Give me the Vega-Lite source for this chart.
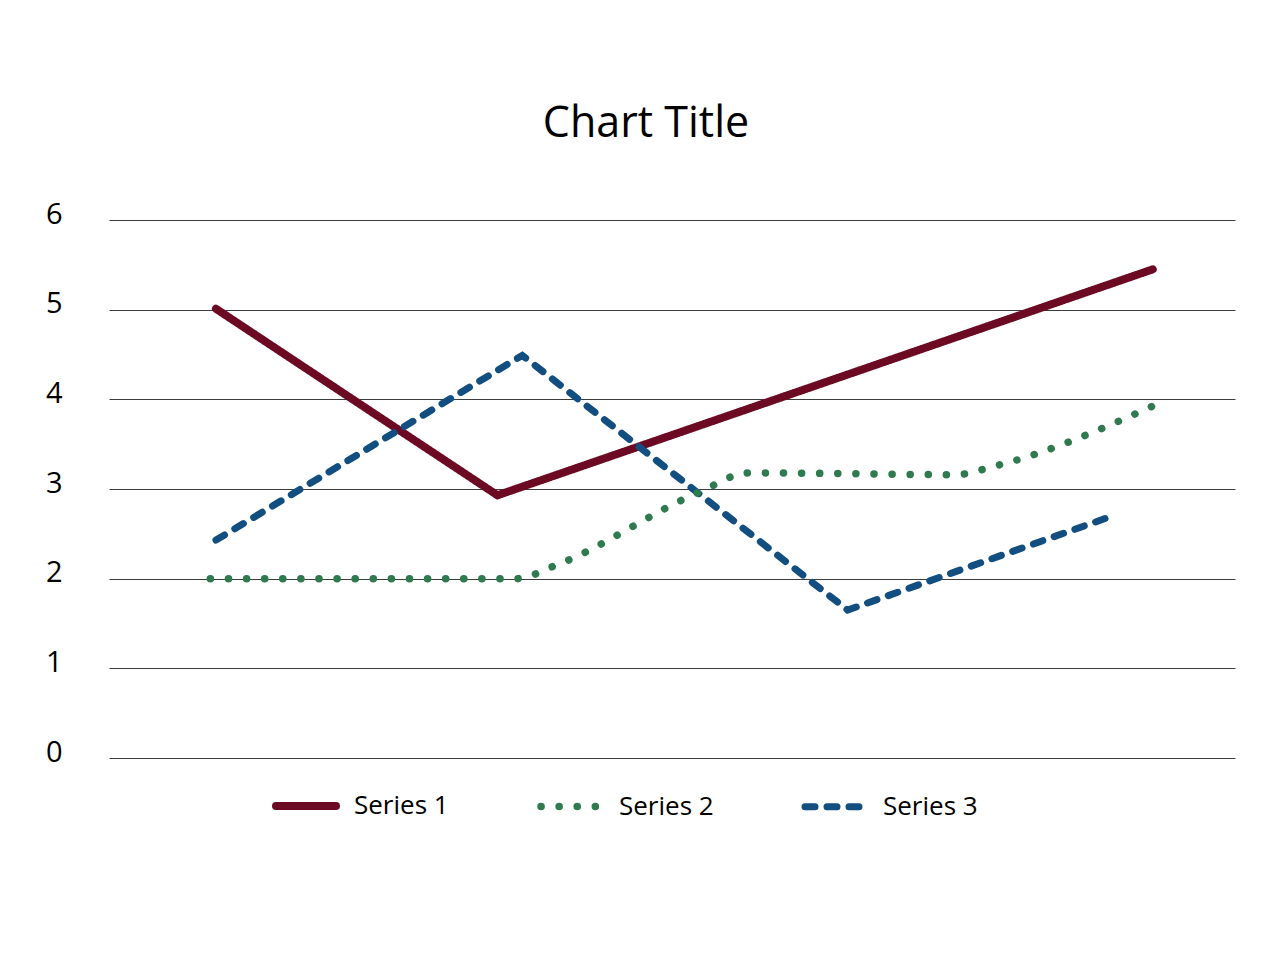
{
  "$schema": "https://vega.github.io/schema/vega-lite/v6.json",
  "description": "Three line series with different stroke styles, 0-6 scale.",
  "autosize": {"type": "none"},
  "padding": {"left": 109, "top": 220, "right": 46, "bottom": 203},
  "width": 1126,
  "height": 538,
  "background": "white",
  "title": {
    "text": "Chart Title",
    "font": "Open Sans",
    "fontSize": 43,
    "fontWeight": "normal",
    "color": "#000000",
    "anchor": "middle",
    "frame": "group",
    "baseline": "alphabetic",
    "offset": 20,
    "dx": -26
  },
  "data": {
    "values": [
      {"series": "Series 1", "t": 0.95, "value": 5.01},
      {"series": "Series 1", "t": 3.45, "value": 2.93},
      {"series": "Series 1", "t": 9.27, "value": 5.45},
      {"series": "Series 2", "t": 0.9, "value": 2.0},
      {"series": "Series 2", "t": 3.62, "value": 2.0},
      {"series": "Series 2", "t": 3.95, "value": 2.14},
      {"series": "Series 2", "t": 5.25, "value": 2.97},
      {"series": "Series 2", "t": 5.68, "value": 3.18},
      {"series": "Series 2", "t": 7.52, "value": 3.16},
      {"series": "Series 2", "t": 7.85, "value": 3.25},
      {"series": "Series 2", "t": 9.35, "value": 3.97},
      {"series": "Series 3", "t": 0.95, "value": 2.43},
      {"series": "Series 3", "t": 3.67, "value": 4.49},
      {"series": "Series 3", "t": 6.56, "value": 1.65},
      {"series": "Series 3", "t": 8.89, "value": 2.69}
    ]
  },
  "encoding": {
    "x": {
      "field": "t",
      "type": "quantitative",
      "scale": {"domain": [0, 10], "nice": false, "zero": false},
      "axis": null
    },
    "y": {
      "field": "value",
      "type": "quantitative",
      "scale": {"domain": [0, 6], "nice": false},
      "axis": {
        "title": null,
        "values": [0, 1, 2, 3, 4, 5, 6],
        "domain": false,
        "ticks": false,
        "grid": true,
        "gridColor": "#3c3c3c",
        "gridWidth": 1,
        "gridOpacity": 1,
        "labelFont": "Open Sans",
        "labelFontSize": 29,
        "labelColor": "#000000",
        "labelPadding": 47,
        "labelOffset": -6
      }
    },
    "color": {
      "field": "series",
      "type": "nominal",
      "scale": {"domain": ["Series 1", "Series 2", "Series 3"], "range": ["#6b0a22", "#2f7a4f", "#124e80"]},
      "legend": {
        "title": null,
        "orient": "none",
        "legendX": 163,
        "legendY": 552,
        "direction": "horizontal",
        "columns": 3,
        "columnPadding": 77,
        "padding": 0,
        "symbolType": "stroke",
        "symbolSize": 3600,
        "labelFont": "Open Sans",
        "labelFontSize": 26,
        "labelColor": "#000000",
        "labelOffset": 14,
        "labelLimit": 300,
        "encode": {"symbols": {"update": {"strokeCap": {"value": "round"}}}}
      }
    },
    "strokeDash": {
      "field": "series",
      "type": "nominal",
      "scale": {"domain": ["Series 1", "Series 2", "Series 3"], "range": [[1, 0], [0.1, 18], [10, 12]]},
      "legend": {
        "title": null,
        "orient": "none",
        "legendX": 163,
        "legendY": 552,
        "direction": "horizontal",
        "columns": 3,
        "columnPadding": 77,
        "padding": 0,
        "symbolType": "stroke",
        "symbolSize": 3600,
        "labelFont": "Open Sans",
        "labelFontSize": 26,
        "labelColor": "#000000",
        "labelOffset": 14,
        "labelLimit": 300,
        "encode": {"symbols": {"update": {"strokeCap": {"value": "round"}}}}
      }
    },
    "strokeWidth": {
      "field": "series",
      "type": "ordinal",
      "scale": {"domain": ["Series 1", "Series 2", "Series 3"], "range": [8, 7, 5.5]},
      "legend": {
        "title": null,
        "orient": "none",
        "legendX": 163,
        "legendY": 552,
        "direction": "horizontal",
        "columns": 3,
        "columnPadding": 77,
        "padding": 0,
        "symbolType": "stroke",
        "symbolSize": 3600,
        "labelFont": "Open Sans",
        "labelFontSize": 26,
        "labelColor": "#000000",
        "labelOffset": 14,
        "labelLimit": 300,
        "encode": {"symbols": {"update": {"strokeCap": {"value": "round"}}}}
      }
    }
  },
  "layer": [
    {
      "transform": [{"filter": "datum.series !== 'Series 2'"}],
      "mark": {"type": "line", "strokeCap": "round", "strokeJoin": "miter", "interpolate": "linear"}
    },
    {
      "transform": [{"filter": "datum.series === 'Series 2'"}],
      "mark": {"type": "line", "strokeCap": "round", "interpolate": "monotone"}
    }
  ],
  "config": {
    "font": "Open Sans",
    "view": {"stroke": null}
  }
}
